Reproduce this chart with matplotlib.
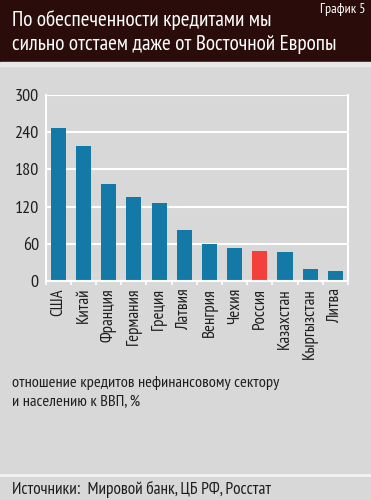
import matplotlib
matplotlib.use("Agg")
import matplotlib.pyplot as plt
import numpy as np

countries = ["США", "Китай", "Франция", "Германия", "Греция", "Латвия",
             "Венгрия", "Чехия", "Россия", "Казахстан", "Кыргызстан", "Литва"]
credit_to_gdp = [246, 217, 156, 135, 126, 82, 59, 53, 49, 46, 20, 16]
highlight = "Россия"
y_ticks = [0, 60, 120, 180, 240, 300]

BG = "#d8d8d8"
BAND = "#2a0c0a"
BLUE = "#137aa8"
RED = "#f4403a"
TXT = "#1e1e1e"
plt.rcParams["font.family"] = ["PT Sans Narrow", "Roboto Condensed", "DejaVu Sans"]

fig = plt.figure(figsize=(3.71, 5.0), dpi=100, facecolor=BG)

# dark title band
fig.patches.append(plt.Rectangle((0, 1 - 62 / 500), 1, 62 / 500, transform=fig.transFigure,
                                 color=BAND, zorder=0))
fig.patches.append(plt.Rectangle((0, 1 - 66 / 500), 1, 4 / 500, transform=fig.transFigure,
                                 color="#e8e8e8", zorder=0))
fig.text(12 / 371, 1 - 20 / 500, "По обеспеченности кредитами мы", color="white",
         fontsize=15.4, va="center")
fig.text(12 / 371, 1 - 44 / 500, "сильно отстаем даже от Восточной Европы", color="white",
         fontsize=15.4, va="center")
fig.text(365 / 371, 1 - 10 / 500, "График 5", color="white", fontsize=10, ha="right", va="center")

ax = fig.add_axes([45.7 / 371, 1 - 281 / 500, (348 - 45.7) / 371, (281 - 95) / 500])
ax.set_facecolor(BG)
x = np.arange(len(countries))
colors = [RED if c == highlight else BLUE for c in countries]
ax.bar(x, credit_to_gdp, width=0.6, color=colors, zorder=2)

ax.set_ylim(0, 300)
ax.set_xlim(-0.5, len(countries) - 0.5)
ax.set_yticks(y_ticks)
ax.set_yticklabels([str(v) for v in y_ticks], fontsize=13, color=TXT)
ax.grid(axis="y", color="white", lw=1.5, zorder=1)
ax.set_xticks(x)
ax.set_xticklabels(countries, rotation=90, fontsize=12.2, color=TXT)
ax.set_xticks(np.arange(-0.5, len(countries)), minor=True)
ax.tick_params(axis="x", which="major", length=0, pad=5)
ax.tick_params(axis="x", which="minor", length=3, width=1.2, color="white")
ax.tick_params(axis="y", length=0, pad=5)
for side in ["left", "right", "bottom"]:
    ax.spines[side].set_color("white")
    ax.spines[side].set_linewidth(1.5)
ax.spines["bottom"].set_zorder(3)
ax.spines["top"].set_visible(False)

fig.text(12 / 371, 1 - 383 / 500, "отношение кредитов нефинансовому сектору",
         fontsize=11.8, color=TXT, va="center")
fig.text(12 / 371, 1 - 401 / 500, "и населению к ВВП, %",
         fontsize=11.8, color=TXT, va="center")

fig.lines.append(plt.Line2D([0, 1], [1 - 474.5 / 500] * 2, transform=fig.transFigure,
                            color="#f2f2f2", lw=2))
fig.text(12 / 371, 1 - 489 / 500, "Источники:  Мировой банк, ЦБ РФ, Росстат",
         fontsize=12.4, color=TXT, va="center")

fig.savefig("out.png", dpi=100, facecolor=BG)
